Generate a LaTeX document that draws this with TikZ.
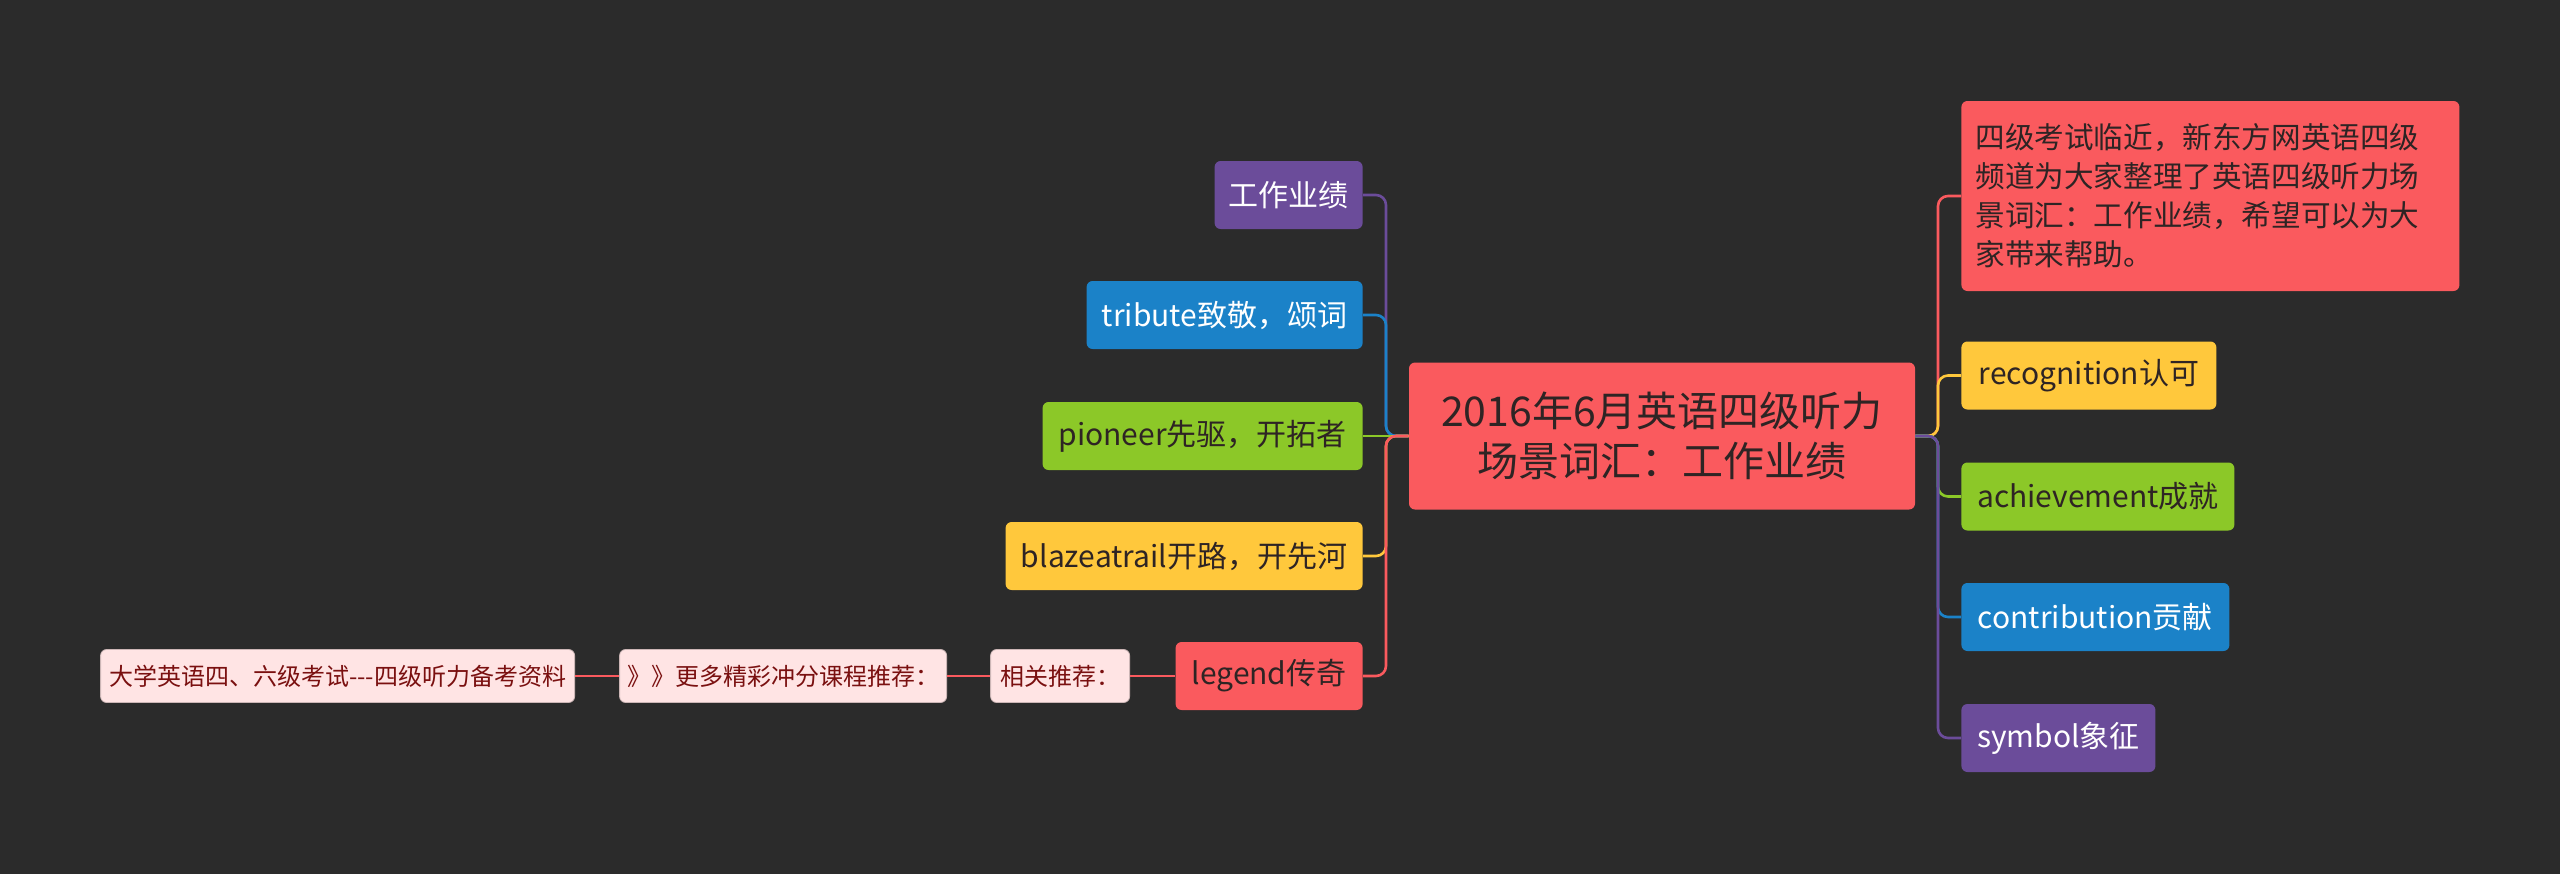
\documentclass[tikz,border=0pt]{standalone}
\usepackage{fontspec}
\setmainfont{Noto Sans CJK SC}
\definecolor{bg}{HTML}{2B2B2B}
\definecolor{cred}{HTML}{FA5A5E}
\definecolor{cpur}{HTML}{6B4C9A}
\definecolor{cblu}{HTML}{1B82C8}
\definecolor{cgrn}{HTML}{8CC828}
\definecolor{cyel}{HTML}{FFC83C}
\definecolor{cpink}{HTML}{FFE4E4}
\definecolor{cdk}{HTML}{2E2424}
\definecolor{cdred}{HTML}{7A1010}
\begin{document}
\begin{tikzpicture}[x=0.5pt,y=-0.5pt,
  box/.style={rounded corners=3pt, inner xsep=4pt, inner ysep=0pt, minimum height=34pt, font=\fontsize{15}{18}\selectfont},
  pinkbox/.style={rounded corners=3pt, fill=cpink, draw=cpink!80!black, line width=0.4pt, text=cdred, inner xsep=3pt, inner ysep=0pt, minimum height=26.5pt, font=\fontsize{12}{14}\selectfont},
  conn/.style={line width=1.3pt, rounded corners=5pt}
]
\fill[bg] (0,0) rectangle (2560,874);
\useasboundingbox (0,0) rectangle (2560,874);

% center
\node[rounded corners=3pt, fill=cred, text=cdk, minimum width=253pt, minimum height=73.5pt, align=center, font=\fontsize{20.5}{25}\selectfont, inner sep=0pt] (c) at (1662,436) {2016年6月英语四级听力\\场景词汇：工作业绩};

% left children
\node[box, fill=cpur, text=white, anchor=east, minimum width=74pt] (l1) at (1363,195) {工作业绩};
\node[box, fill=cblu, text=white, anchor=east, minimum width=138pt] (l2) at (1363,315) {tribute致敬，颂词};
\node[box, fill=cgrn, text=cdk, anchor=east, minimum width=160pt] (l3) at (1363,436) {pioneer先驱，开拓者};
\node[box, fill=cyel, text=cdk, anchor=east, minimum width=178.5pt] (l4) at (1363,556) {blazeatrail开路，开先河};
\node[box, fill=cred, text=cdk, anchor=east, minimum width=93.5pt] (l5) at (1363,676) {legend传奇};

% pink chain
\node[pinkbox, anchor=east, minimum width=69.5pt] (p1) at (1130,676) {相关推荐：};
\node[pinkbox, anchor=east, minimum width=163.5pt] (p2) at (947,676) {》》更多精彩冲分课程推荐：};
\node[pinkbox, anchor=east, minimum width=237pt] (p3) at (575,676) {大学英语四、六级考试-{}-{}-四级听力备考资料};

% right children
\node[box, fill=cred, text=cdk, anchor=west, minimum width=249pt, minimum height=95pt, text width=235pt, align=left, font=\fontsize{14.8}{19.5}\selectfont] (r0) at (1961,196) {四级考试临近，新东方网英语四级\\频道为大家整理了英语四级听力场\\景词汇：工作业绩，希望可以为大\\家带来帮助。};
\node[box, fill=cyel, text=cdk, anchor=west, minimum width=127.5pt] (r1) at (1961,375.5) {recognition认可};
\node[box, fill=cgrn, text=cdk, anchor=west, minimum width=136.5pt] (r2) at (1961,496.5) {achievement成就};
\node[box, fill=cblu, text=white, anchor=west, minimum width=134pt] (r3) at (1961,617) {contribution贡献};
\node[box, fill=cpur, text=white, anchor=west, minimum width=97pt] (r4) at (1961,738) {symbol象征};

\coordinate (L) at (1386,436);
\coordinate (R) at (1938,436);

% connectors left
\draw[conn, cpur] (c.west) -- (L) |- (l1.east);
\draw[conn, cblu] (c.west) -- (L) |- (l2.east);
\draw[conn, cgrn] (c.west) -- (l3.east);
\draw[conn, cyel] (c.west) -- (L) |- (l4.east);
\draw[conn, cred] (c.west) -- (L) |- (l5.east);
\draw[line width=1.3pt, cred] (l5.west) -- (p1.east);
\draw[line width=1.3pt, cred] (p1.west) -- (p2.east);
\draw[line width=1.3pt, cred] (p2.west) -- (p3.east);

% connectors right
\draw[conn, cred] (c.east) -- (R) |- (r0.west);
\draw[conn, cyel] (c.east) -- (R) |- (r1.west);
\draw[conn, cgrn] (c.east) -- (R) |- (r2.west);
\draw[conn, cblu] (c.east) -- (R) |- (r3.west);
\draw[conn, cpur] (c.east) -- (R) |- (r4.west);
\end{tikzpicture}
\end{document}
